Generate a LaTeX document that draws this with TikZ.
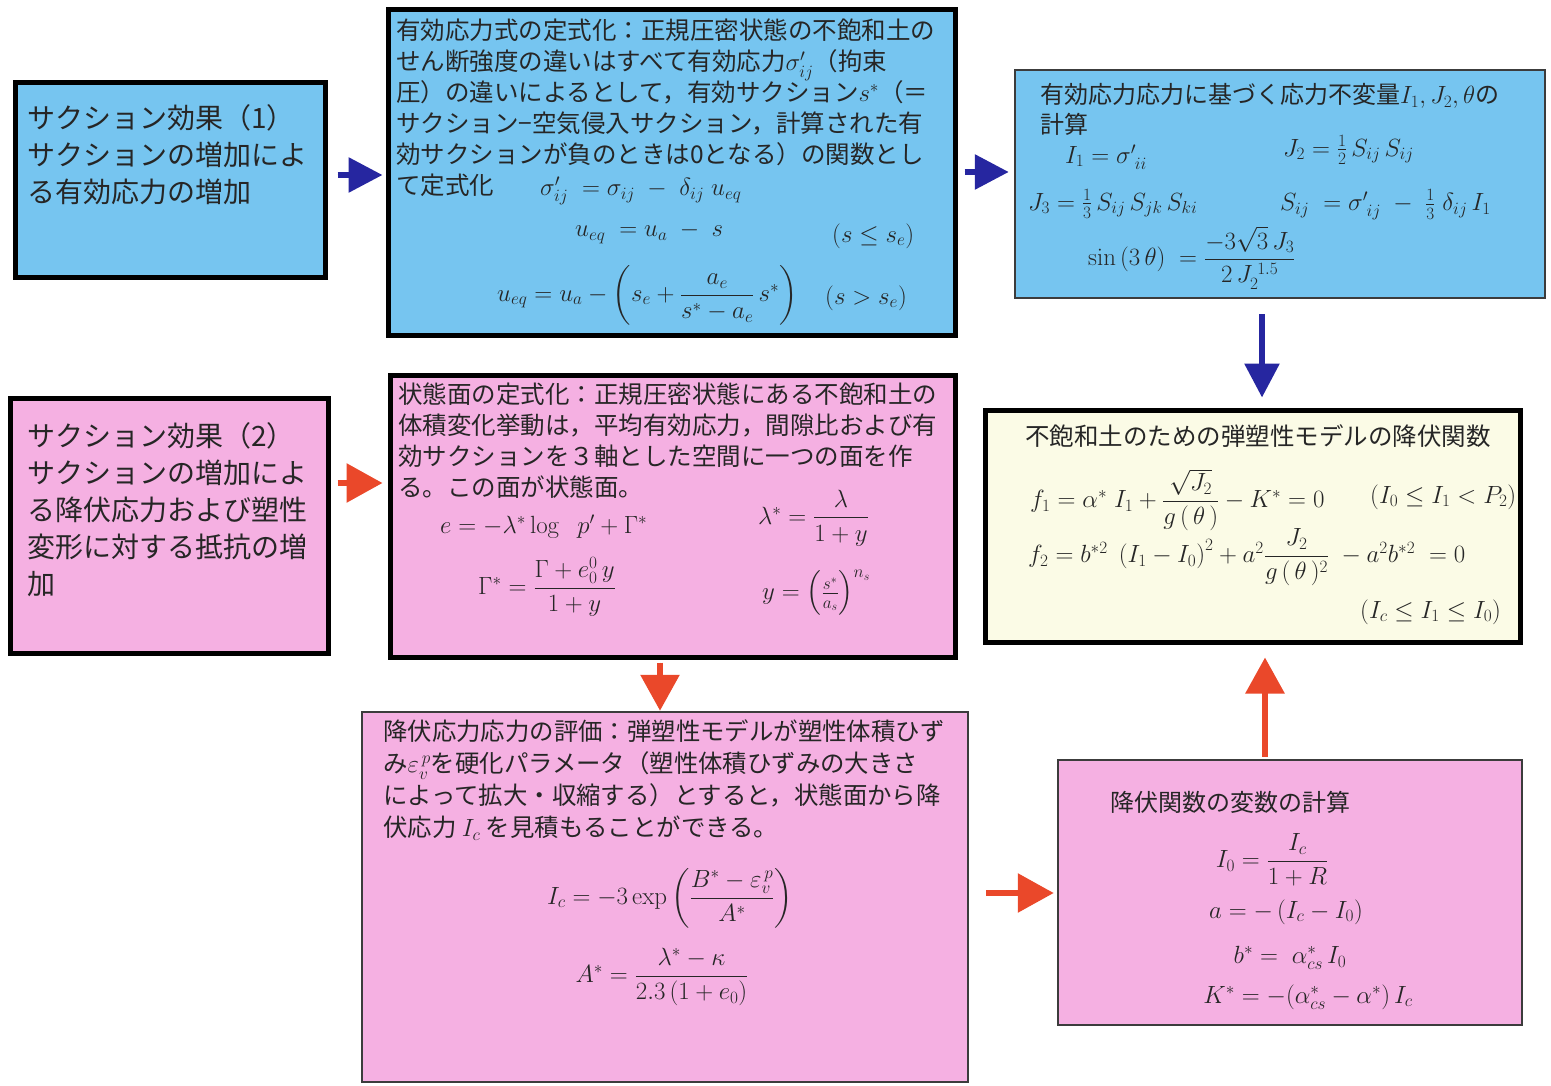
\documentclass[tikz,border=0pt]{standalone}
\usepackage{amsmath}
\usepackage[no-math]{fontspec}
\setmainfont{Noto Sans CJK JP}
\usetikzlibrary{arrows.meta,fit,calc}
\definecolor{boxblue}{RGB}{118,197,240}
\definecolor{boxpink}{RGB}{245,176,226}
\definecolor{boxyellow}{RGB}{251,251,230}
\definecolor{arrblue}{RGB}{38,38,160}
\definecolor{arrred}{RGB}{234,72,42}
\definecolor{thinedge}{RGB}{60,60,60}
\begin{document}
\begin{tikzpicture}[x=1pt,y=-1pt,
  boxbase/.style={inner sep=0pt, rectangle},
  thickedge/.style={draw=black, line width=5pt},
  thinbox/.style={draw=thinedge, line width=2.5pt},
  jtxt/.style={inner sep=0pt, anchor=north west, align=left, text=black!85},
  mth/.style={inner sep=0pt, text=black!85, font=\fontsize{24}{30}\selectfont},
  barrow/.style={draw=arrblue, line width=6pt, -{Triangle[length=34pt,width=34pt]}, fill=arrblue},
  rarrow/.style={draw=arrred, line width=6pt, -{Triangle[length=36pt,width=38pt]}, fill=arrred}
]
\useasboundingbox (0,0) rectangle (1551,1086);
\fill[white] (0,0) rectangle (1551,1086);

% box corners
\coordinate (a1) at (15,83);   \coordinate (a2) at (325,278);
\coordinate (b1) at (388,10);  \coordinate (b2) at (955,335);
\coordinate (c1) at (1015,70); \coordinate (c2) at (1545,298);
\coordinate (d1) at (10,398);  \coordinate (d2) at (328,653);
\coordinate (e1) at (390,375); \coordinate (e2) at (955,657);
\coordinate (f1) at (985,410); \coordinate (f2) at (1520,642);
\coordinate (g1) at (362,712); \coordinate (g2) at (968,1082);
\coordinate (h1) at (1058,760);\coordinate (h2) at (1522,1025);

\node[boxbase, fill=boxblue, thickedge, fit=(a1)(a2)] (A) {};
\node[boxbase, fill=boxblue, thickedge, fit=(b1)(b2)] (B) {};
\node[boxbase, fill=boxblue, thinbox, fit=(c1)(c2)] (C) {};
\node[boxbase, fill=boxpink, thickedge, fit=(d1)(d2)] (D) {};
\node[boxbase, fill=boxpink, thickedge, fit=(e1)(e2)] (E) {};
\node[boxbase, fill=boxyellow, thickedge, fit=(f1)(f2)] (F) {};
\node[boxbase, fill=boxpink, thinbox, fit=(g1)(g2)] (G) {};
\node[boxbase, fill=boxpink, thinbox, fit=(h1)(h2)] (H) {};

% Box A
\node[jtxt, font=\fontsize{28}{37}\selectfont] (At) at (27,104)
  {サクション効果（1）\\サクションの増加によ\\る有効応力の増加};

% Box B
\node[jtxt, font=\fontsize{24.5}{31}\selectfont] (Bt) at (396,19)
  {有効応力式の定式化：正規圧密状態の不飽和土の\\
   せん断強度の違いはすべて有効応力$\sigma'_{ij}$（拘束\\
   圧）の違いによるとして，有効サクション$s^*$（＝\\
   サクション−空気侵入サクション，計算された有\\
   効サクションが負のときは0となる）の関数とし\\
   て定式化};
\node[mth, anchor=west] (Bm1) at (540,191) {$\sigma'_{ij}\;=\sigma_{ij}\;-\;\delta_{ij}\;u_{eq}$};
\node[mth, anchor=west] (Bm2) at (575,233) {$u_{eq}\;=u_a\;-\;s$};
\node[mth, anchor=west] (Bm3) at (832,236) {$\left(s\le s_e\right)$};
\node[mth, anchor=west] (Bm4) at (497,295) {$u_{eq}=u_a-\left(s_e+\dfrac{a_e}{s^*-a_e}\,s^*\right)$};
\node[mth, anchor=west] (Bm5) at (825,298) {$\left(s>s_e\right)$};

% Box C
\node[jtxt, font=\fontsize{24}{30}\selectfont] (Ct) at (1040,83)
  {有効応力応力に基づく応力不変量$I_1, J_2, \theta$の\\計算};
\node[mth, anchor=west] (Cm1) at (1065,157) {$I_1=\sigma'_{\;ii}$};
\node[mth, anchor=west] (Cm2) at (1283,150) {$J_2=\frac{1}{2}\,S_{ij}\,S_{ij}$};
\node[mth, anchor=west] (Cm3) at (1028,204) {$J_3=\frac{1}{3}\,S_{ij}\,S_{jk}\,S_{ki}$};
\node[mth, anchor=west] (Cm4) at (1280,205) {$S_{ij}\;=\sigma'_{\;ij}\;-\;\frac{1}{3}\;\delta_{ij}\,I_1$};
\node[mth, anchor=west] (Cm5) at (1088,258) {$\sin\left(3\,\theta\right)\;=\dfrac{-3\sqrt{3}\,J_3}{2\,J_2^{\;1.5}}$};

% Box D
\node[jtxt, font=\fontsize{28}{37}\selectfont] (Dt) at (27,422)
  {サクション効果（2）\\サクションの増加によ\\る降伏応力および塑性\\変形に対する抵抗の増\\加};

% Box E
\node[jtxt, font=\fontsize{24.5}{31}\selectfont] (Et) at (398,383)
  {状態面の定式化：正規圧密状態にある不飽和土の\\
   体積変化挙動は，平均有効応力，間隙比および有\\
   効サクションを３軸とした空間に一つの面を作\\
   る。この面が状態面。};
\node[mth, anchor=west] (Em1) at (440,527) {$e=-\lambda^*\log\;\;p'+\Gamma^*$};
\node[mth, anchor=west] (Em2) at (758,518) {$\lambda^*=\dfrac{\lambda}{1+y}$};
\node[mth, anchor=west] (Em3) at (478,587) {$\Gamma^*=\dfrac{\Gamma+e_0^0\,y}{1+y}$};
\node[mth, anchor=west] (Em4) at (762,593) {$y=\left(\frac{s^*}{a_s}\right)^{n_s}$};

% Box F
\node[jtxt, font=\fontsize{24.5}{30}\selectfont] (Ft) at (1025,424)
  {不飽和土のための弾塑性モデルの降伏関数};
\node[mth, anchor=west] (Fm1) at (1030,500) {$f_1=\alpha^*\;I_1+\dfrac{\sqrt{J_2}}{g\,(\,\theta\,)}-K^*=0$};
\node[mth, anchor=west] (Fm2) at (1370,497) {$\left(I_0\le I_1<P_2\right)$};
\node[mth, anchor=west] (Fm3) at (1028,557) {$f_2=b^{*2}\;\left(I_1-I_0\right)^2+a^2\dfrac{J_2}{g\,(\,\theta\,)^2}\;-a^2b^{*2}\;=0$};
\node[mth, anchor=west] (Fm4) at (1360,612) {$\left(I_c\le I_1\le I_0\right)$};

% Box G
\node[jtxt, font=\fontsize{24.4}{32}\selectfont] (Gt) at (383,720)
  {降伏応力応力の評価：弾塑性モデルが塑性体積ひず\\
   み$\varepsilon_v^{\,p}$を硬化パラメータ（塑性体積ひずみの大きさ\\
   によって拡大・収縮する）とすると，状態面から降\\
   伏応力 $I_c$ を見積もることができる。};
\node[mth] (Gm1) at (670,898) {$I_c=-3\exp\left(\dfrac{B^*-\varepsilon_v^{\,p}}{A^*}\right)$};
\node[mth] (Gm2) at (662,977) {$A^*=\dfrac{\lambda^*-\kappa}{2.3\,(1+e_0)}$};

% Box H
\node[jtxt, font=\fontsize{24}{30}\selectfont] (Ht) at (1110,791)
  {降伏関数の変数の計算};
\node[mth] (Hm1) at (1272,860) {$I_0=\dfrac{I_c}{1+R}$};
\node[mth] (Hm2) at (1286,912) {$a=-\left(I_c-I_0\right)$};
\node[mth] (Hm3) at (1290,958) {$b^*=\;\alpha^*_{cs}\,I_0$};
\node[mth] (Hm4) at (1308,997) {$K^*=-(\alpha^*_{cs}-\alpha^*)\,I_c$};

% arrow guide coordinates
\coordinate (yab) at (0,175);
\coordinate (ybc) at (0,172);
\coordinate (xcf) at (1262,0);
\coordinate (yde) at (0,483);
\coordinate (xeg) at (660,0);
\coordinate (ygh) at (0,893);
\coordinate (xhf) at (1265,0);

\draw[barrow, shorten <=10pt, shorten >=3pt] (A.east |- yab) -- (B.west |- yab);
\draw[barrow, shorten <=7pt, shorten >=5pt] (B.east |- ybc) -- (C.west |- ybc);
\draw[barrow, shorten <=15pt, shorten >=10pt] (xcf |- C.south) -- (xcf |- F.north);
\draw[rarrow, shorten <=7pt, shorten >=5pt] (D.east |- yde) -- (E.west |- yde);
\draw[rarrow, shorten <=3pt, shorten >=0pt] (xeg |- E.south) -- (xeg |- G.north);
\draw[rarrow, shorten <=17pt, shorten >=3pt] (G.east |- ygh) -- (H.west |- ygh);
\draw[rarrow, shorten <=2pt, shorten >=13pt] (xhf |- H.north) -- (xhf |- F.south);
\end{tikzpicture}
\end{document}
